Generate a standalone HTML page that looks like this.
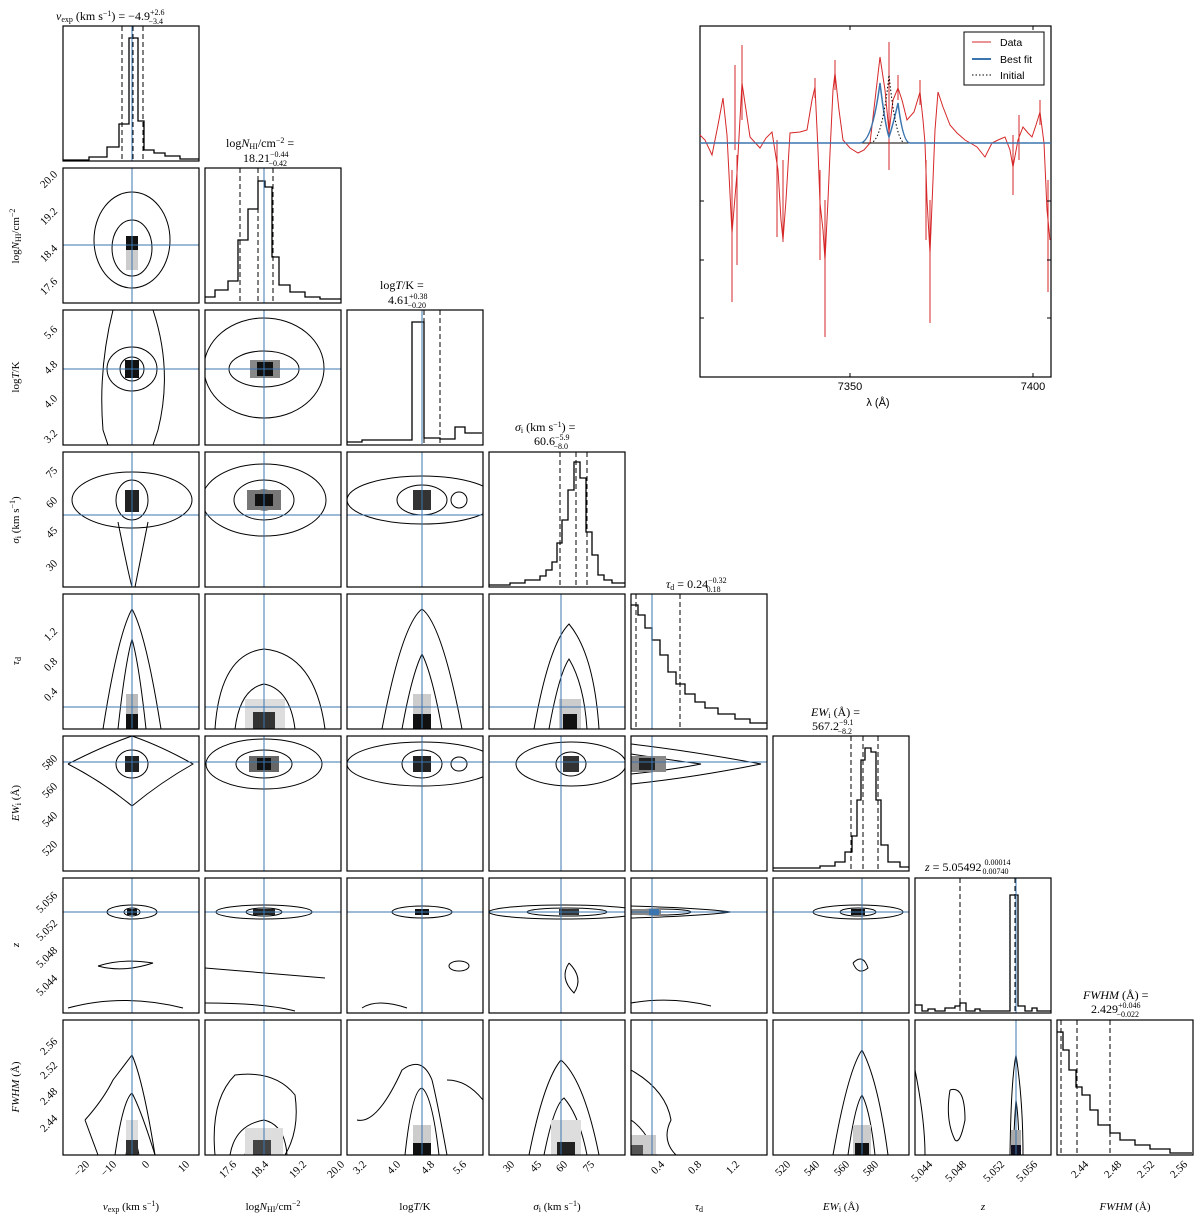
<!DOCTYPE html>
<html><head><meta charset="utf-8"><style>
html,body{margin:0;padding:0;background:#fff;}
svg{display:block;font-family:"Liberation Serif",serif;}
.f{fill:none;stroke:#000;stroke-width:1.2}
.c{fill:none;stroke:#000;stroke-width:1}
.b{stroke:#3b75af;stroke-width:1}
.h{fill:none;stroke:#000;stroke-width:1.3}
.d{stroke:#000;stroke-width:1;stroke-dasharray:5,3}
.t{font-size:12px}
.s{font-size:8px}
.ax{font-size:11px}
.i{font-style:italic}
</style></head><body>
<svg width="1200" height="1217" viewBox="0 0 1200 1217" xmlns="http://www.w3.org/2000/svg">
<!-- Diagonal histograms -->
<g>
<path class="h" d="M63,160 H89 V157 H107 V147 H119 V124 H129 V38 H138 V121 H144 V150 H154 V153 H165 V156 H180 V159 H199"/>
<line class="d" x1="122" y1="26" x2="122" y2="161" stroke-width="2"/><line class="d" x1="133" y1="26" x2="133" y2="161"/><line class="d" x1="143" y1="26" x2="143" y2="161"/>
<line class="b" x1="132" y1="26" x2="132" y2="161"/>
<rect class="f" x="63" y="26" width="136" height="135"/>
<text class="t" x="56" y="20"><tspan class="i">v</tspan><tspan class="s" dy="2">exp</tspan><tspan dy="-2"> (km s</tspan><tspan class="s" dy="-4">−1</tspan><tspan dy="4">) = −4.9</tspan><tspan class="s" dy="-5">+2.6</tspan><tspan class="s" dx="-16" dy="9">−3.4</tspan></text>

<path class="h" d="M205,297 H215 V290 H228 V281 H238 V240 H248 V209 H258 V181 H265 V187 H272 V257 H279 V285 H290 V292 H305 V297 H320 V299 H341"/>
<line class="d" x1="240" y1="168" x2="240" y2="303"/><line class="d" x1="258" y1="168" x2="258" y2="303"/><line class="d" x1="273" y1="168" x2="273" y2="303"/>
<line class="b" x1="264" y1="168" x2="264" y2="303"/>
<rect class="f" x="205" y="168" width="136" height="135"/>
<text class="t" x="226" y="147">log<tspan class="i">N</tspan><tspan class="s" dy="2">HI</tspan><tspan dy="-2">/cm</tspan><tspan class="s" dy="-4">−2</tspan><tspan dy="4"> =</tspan></text>
<text class="t" x="243" y="162">18.21<tspan class="s" dy="-5">−0.44</tspan><tspan class="s" dx="-20" dy="9">−0.42</tspan></text>

<path class="h" d="M347,442 H362 V440 H412 V322 H424 V438 H440 V439 H455 V427 H465 V433 H482"/>
<line class="d" x1="424" y1="310" x2="424" y2="444"/><line class="d" x1="440" y1="310" x2="440" y2="444"/>
<line class="b" x1="422" y1="310" x2="422" y2="444"/>
<rect class="f" x="347" y="310" width="136" height="135"/>
<text class="t" x="380" y="289">log<tspan class="i">T</tspan>/K =</text>
<text class="t" x="388" y="304">4.61<tspan class="s" dy="-5">+0.38</tspan><tspan class="s" dx="-20" dy="9">−0.20</tspan></text>

<path class="h" d="M489,585 H510 V583 H525 V580 H540 V576 H546 V570 H552 V562 H557 V543 H562 V520 H568 V490 H574 V462 H580 V478 H586 V532 H592 V555 H598 V575 H604 V580 H612 V583 H625"/>
<line class="d" x1="560" y1="452" x2="560" y2="587"/><line class="d" x1="576" y1="452" x2="576" y2="587" stroke-width="2"/><line class="d" x1="587" y1="452" x2="587" y2="587"/>
<rect class="f" x="489" y="452" width="136" height="135"/>
<text class="t" x="515" y="431"><tspan class="i">σ</tspan><tspan class="s" dy="2">i</tspan><tspan dy="-2"> (km s</tspan><tspan class="s" dy="-4">−1</tspan><tspan dy="4">) =</tspan></text>
<text class="t" x="534" y="445">60.6<tspan class="s" dy="-5">−5.9</tspan><tspan class="s" dx="-16" dy="9">−8.0</tspan></text>

<path class="h" d="M631,605 H638 V615 H645 V628 H652 V640 H660 V655 H668 V672 H676 V684 H685 V694 H695 V702 H705 V708 H718 V714 H735 V719 H750 V723 H767"/>
<line class="d" x1="636" y1="594" x2="636" y2="729"/><line class="d" x1="680" y1="594" x2="680" y2="729"/>
<line class="b" x1="652" y1="594" x2="652" y2="729"/>
<rect class="f" x="631" y="594" width="136" height="135"/>
<text class="t" x="666" y="588"><tspan class="i">τ</tspan><tspan class="s" dy="2">d</tspan><tspan dy="-2"> = 0.24</tspan><tspan class="s" dy="-5">−0.32</tspan><tspan class="s" dx="-20" dy="9">0.18</tspan></text>

<path class="h" d="M773,868 H820 V866 H835 V862 H845 V852 H852 V836 H857 V800 H861 V760 H865 V748 H871 V752 H876 V800 H881 V845 H888 V862 H900 V867 H909"/>
<line class="d" x1="851" y1="736" x2="851" y2="871"/><line class="d" x1="863" y1="736" x2="863" y2="871"/><line class="d" x1="878" y1="736" x2="878" y2="871"/>
<rect class="f" x="773" y="736" width="136" height="135"/>
<text class="t" x="811" y="716"><tspan class="i">EW</tspan><tspan class="s" dy="2">i</tspan><tspan dy="-2"> (Å) =</tspan></text>
<text class="t" x="812" y="730">567.2<tspan class="s" dy="-5">−9.1</tspan><tspan class="s" dx="-16" dy="9">−8.2</tspan></text>

<path class="h" d="M915,1005 H922 V1011 H928 V1009 H935 V1011 H945 V1008 H955 V1006 H960 V1003 H966 V1011 H975 V1009 H980 V1011 H1010 V895 H1018 V1006 H1025 V1011 H1032 V1008 H1037 V1011 H1051"/>
<line class="d" x1="960" y1="878" x2="960" y2="1013"/><line class="d" x1="1015" y1="878" x2="1015" y2="1013" stroke-width="2"/>
<line class="b" x1="1016" y1="878" x2="1016" y2="1013"/>
<rect class="f" x="915" y="878" width="136" height="135"/>
<text class="t" x="925" y="871"><tspan class="i">z</tspan> = 5.05492 <tspan class="s" dy="-6">0.00014</tspan><tspan class="s" dx="-28" dy="9">0.00740</tspan></text>

<path class="h" d="M1057,1032 H1063 V1050 H1069 V1070 H1076 V1087 H1082 V1095 H1090 V1110 H1098 V1125 H1110 V1133 H1120 V1140 H1135 V1145 H1150 V1149 H1170 V1153 H1192"/>
<line class="d" x1="1061" y1="1020" x2="1061" y2="1155"/><line class="d" x1="1077" y1="1020" x2="1077" y2="1155"/><line class="d" x1="1110" y1="1020" x2="1110" y2="1155"/>
<rect class="f" x="1057" y="1020" width="136" height="135"/>
<text class="t" x="1083" y="999"><tspan class="i">FWHM</tspan> (Å) =</text>
<text class="t" x="1091" y="1013">2.429<tspan class="s" dy="-5">+0.046</tspan><tspan class="s" dx="-24" dy="9">−0.022</tspan></text>
</g>

<!-- Lower triangle panels -->
<g>
<svg x="63" y="168" width="136" height="135"><ellipse cx="69" cy="72" rx="38" ry="48" class="c"/><ellipse cx="69" cy="80" rx="20" ry="28" class="c"/><rect x="63" y="72" width="12" height="30" fill="#ccc"/><rect x="63" y="68" width="12" height="14" fill="#111"/><line class="b" x1="69" y1="0" x2="69" y2="135"/><line class="b" x1="0" y1="77" x2="136" y2="77"/></svg>
<rect class="f" x="63" y="168" width="136" height="135"/>
<svg x="63" y="310" width="136" height="135"><path class="c" d="M50,0 Q35,60 40,120 L45,135 M90,0 Q110,60 95,120 L90,135"/><ellipse cx="69" cy="59" rx="25" ry="22" class="c"/><ellipse cx="69" cy="59" rx="12" ry="12" class="c"/><rect x="62" y="50" width="14" height="18" fill="#111"/><line class="b" x1="69" y1="0" x2="69" y2="135"/><line class="b" x1="0" y1="59" x2="136" y2="59"/></svg>
<rect class="f" x="63" y="310" width="136" height="135"/>
<svg x="205" y="310" width="136" height="135"><ellipse cx="59" cy="58" rx="60" ry="50" class="c"/><ellipse cx="59" cy="59" rx="35" ry="18" class="c"/><rect x="45" y="50" width="30" height="18" fill="#888"/><rect x="52" y="52" width="16" height="14" fill="#111"/><line class="b" x1="59" y1="0" x2="59" y2="135"/><line class="b" x1="0" y1="59" x2="136" y2="59"/></svg>
<rect class="f" x="205" y="310" width="136" height="135"/>
<svg x="63" y="452" width="136" height="135"><ellipse cx="69" cy="48" rx="60" ry="28" class="c"/><ellipse cx="69" cy="48" rx="16" ry="20" class="c"/><rect x="62" y="38" width="14" height="22" fill="#222"/><path class="c" d="M55,70 Q65,120 69,135 M85,70 Q75,120 72,135"/><line class="b" x1="69" y1="0" x2="69" y2="135"/><line class="b" x1="0" y1="63" x2="136" y2="63" stroke-width="1.5"/></svg>
<rect class="f" x="63" y="452" width="136" height="135"/>
<svg x="205" y="452" width="136" height="135"><ellipse cx="59" cy="48" rx="62" ry="36" class="c"/><ellipse cx="59" cy="48" rx="30" ry="20" class="c"/><ellipse cx="59" cy="48" rx="15" ry="10" class="c"/><rect x="42" y="38" width="34" height="20" fill="#777"/><rect x="50" y="42" width="18" height="12" fill="#111"/><line class="b" x1="59" y1="0" x2="59" y2="135"/><line class="b" x1="0" y1="63" x2="136" y2="63" stroke-width="1.5"/></svg>
<rect class="f" x="205" y="452" width="136" height="135"/>
<svg x="347" y="452" width="136" height="135"><ellipse cx="75" cy="48" rx="75" ry="24" class="c"/><ellipse cx="75" cy="48" rx="25" ry="15" class="c"/><ellipse cx="112" cy="48" rx="8" ry="8" class="c"/><rect x="66" y="38" width="18" height="20" fill="#333"/><line class="b" x1="75" y1="0" x2="75" y2="135" stroke-width="1.5"/><line class="b" x1="0" y1="63" x2="136" y2="63" stroke-width="1.5"/></svg>
<rect class="f" x="347" y="452" width="136" height="135"/>
<svg x="63" y="594" width="136" height="135"><path class="c" d="M40,135 Q55,40 69,15 Q83,40 98,135"/><path class="c" d="M55,135 Q62,70 69,45 Q76,70 83,135"/><rect x="63" y="100" width="12" height="35" fill="#bbb"/><rect x="63" y="120" width="12" height="15" fill="#111"/><line class="b" x1="69" y1="0" x2="69" y2="135"/><line class="b" x1="0" y1="113" x2="136" y2="113"/></svg>
<rect class="f" x="63" y="594" width="136" height="135"/>
<svg x="205" y="594" width="136" height="135"><path class="c" d="M10,135 Q15,60 59,55 Q110,60 120,135"/><path class="c" d="M30,135 Q35,95 59,90 Q85,95 90,135"/><rect x="40" y="105" width="40" height="30" fill="#ddd"/><rect x="48" y="118" width="22" height="17" fill="#333"/><line class="b" x1="59" y1="0" x2="59" y2="135"/><line class="b" x1="0" y1="113" x2="136" y2="113"/></svg>
<rect class="f" x="205" y="594" width="136" height="135"/>
<svg x="347" y="594" width="136" height="135"><path class="c" d="M35,135 Q55,30 75,15 Q95,30 115,135"/><path class="c" d="M55,135 Q65,80 75,60 Q85,80 95,135"/><rect x="66" y="100" width="18" height="35" fill="#ccc"/><rect x="66" y="120" width="18" height="15" fill="#111"/><line class="b" x1="75" y1="0" x2="75" y2="135" stroke-width="1.5"/><line class="b" x1="0" y1="113" x2="136" y2="113"/></svg>
<rect class="f" x="347" y="594" width="136" height="135"/>
<svg x="489" y="594" width="136" height="135"><path class="c" d="M45,135 Q60,50 80,30 Q105,60 110,135"/><path class="c" d="M60,135 Q70,80 80,65 Q95,90 98,135"/><rect x="70" y="105" width="22" height="30" fill="#ccc"/><rect x="74" y="120" width="14" height="15" fill="#111"/><line class="b" x1="72" y1="0" x2="72" y2="135"/><line class="b" x1="0" y1="113" x2="136" y2="113"/></svg>
<rect class="f" x="489" y="594" width="136" height="135"/>
<svg x="63" y="736" width="136" height="135"><path class="c" d="M5,28 Q40,10 69,0 Q98,10 130,28 Q98,46 69,70 Q40,46 5,28"/><ellipse cx="69" cy="28" rx="16" ry="14" class="c"/><rect x="62" y="20" width="14" height="16" fill="#222"/><path class="c" d="M69,70 L69,135"/><line class="b" x1="69" y1="0" x2="69" y2="135"/><line class="b" x1="0" y1="26" x2="136" y2="26"/></svg>
<rect class="f" x="63" y="736" width="136" height="135"/>
<svg x="205" y="736" width="136" height="135"><ellipse cx="59" cy="28" rx="58" ry="25" class="c"/><ellipse cx="59" cy="28" rx="28" ry="14" class="c"/><rect x="44" y="20" width="30" height="16" fill="#666"/><rect x="52" y="22" width="14" height="12" fill="#111"/><line class="b" x1="59" y1="0" x2="59" y2="135"/><line class="b" x1="0" y1="26" x2="136" y2="26"/></svg>
<rect class="f" x="205" y="736" width="136" height="135"/>
<svg x="347" y="736" width="136" height="135"><ellipse cx="75" cy="28" rx="75" ry="22" class="c"/><ellipse cx="75" cy="28" rx="20" ry="14" class="c"/><ellipse cx="112" cy="28" rx="8" ry="7" class="c"/><rect x="66" y="20" width="18" height="16" fill="#222"/><path class="c" d="M75,50 L75,135"/><line class="b" x1="75" y1="0" x2="75" y2="135" stroke-width="1.5"/><line class="b" x1="0" y1="26" x2="136" y2="26"/></svg>
<rect class="f" x="347" y="736" width="136" height="135"/>
<svg x="489" y="736" width="136" height="135"><ellipse cx="82" cy="28" rx="55" ry="22" class="c"/><ellipse cx="82" cy="28" rx="15" ry="12" class="c"/><rect x="74" y="20" width="16" height="16" fill="#333"/><line class="b" x1="72" y1="0" x2="72" y2="135"/><line class="b" x1="0" y1="26" x2="136" y2="26"/></svg>
<rect class="f" x="489" y="736" width="136" height="135"/>
<svg x="631" y="736" width="136" height="135"><path class="c" d="M0,8 Q60,15 130,28 Q60,42 0,48"/><path class="c" d="M0,18 Q40,24 70,28 Q40,34 0,38"/><rect x="0" y="20" width="35" height="16" fill="#888"/><rect x="8" y="22" width="16" height="12" fill="#222"/><line class="b" x1="21" y1="0" x2="21" y2="135"/><line class="b" x1="0" y1="26" x2="136" y2="26"/></svg>
<rect class="f" x="631" y="736" width="136" height="135"/>
<svg x="63" y="878" width="136" height="135"><ellipse cx="69" cy="34" rx="25" ry="7" class="c"/><ellipse cx="69" cy="34" rx="8" ry="4" class="c"/><rect x="64" y="31" width="10" height="6" fill="#111"/><path class="c" d="M35,88 Q60,80 90,85 Q60,95 35,88 M5,130 Q60,115 120,130"/><line class="b" x1="69" y1="0" x2="69" y2="135"/><line class="b" x1="0" y1="34" x2="136" y2="34"/></svg>
<rect class="f" x="63" y="878" width="136" height="135"/>
<svg x="205" y="878" width="136" height="135"><ellipse cx="59" cy="34" rx="48" ry="7" class="c"/><ellipse cx="59" cy="34" rx="18" ry="4" class="c"/><rect x="48" y="31" width="22" height="6" fill="#222"/><path class="c" d="M0,90 Q60,95 120,100 M0,125 Q60,125 90,133"/><line class="b" x1="59" y1="0" x2="59" y2="135"/><line class="b" x1="0" y1="34" x2="136" y2="34"/></svg>
<rect class="f" x="205" y="878" width="136" height="135"/>
<svg x="347" y="878" width="136" height="135"><ellipse cx="75" cy="34" rx="30" ry="6" class="c"/><rect x="68" y="31" width="14" height="6" fill="#111"/><ellipse cx="112" cy="88" rx="10" ry="5" class="c"/><path class="c" d="M15,130 Q30,120 60,130"/><line class="b" x1="75" y1="0" x2="75" y2="135" stroke-width="1.5"/><line class="b" x1="0" y1="34" x2="136" y2="34"/></svg>
<rect class="f" x="347" y="878" width="136" height="135"/>
<svg x="489" y="878" width="136" height="135"><ellipse cx="75" cy="34" rx="75" ry="7" class="c"/><ellipse cx="78" cy="34" rx="40" ry="4" class="c"/><rect x="70" y="31" width="20" height="6" fill="#333"/><path class="c" d="M80,85 Q95,100 85,115 Q70,100 80,85"/><line class="b" x1="72" y1="0" x2="72" y2="135"/><line class="b" x1="0" y1="34" x2="136" y2="34"/></svg>
<rect class="f" x="489" y="878" width="136" height="135"/>
<svg x="631" y="878" width="136" height="135"><path class="c" d="M0,28 Q70,30 100,34 Q70,38 0,40"/><ellipse cx="30" cy="34" rx="30" ry="3" class="c"/><rect x="0" y="31" width="30" height="6" fill="#888"/><rect x="18" y="31" width="10" height="6" fill="#3b75af"/><path class="c" d="M0,125 Q40,118 80,128"/><line class="b" x1="21" y1="0" x2="21" y2="135"/><line class="b" x1="0" y1="34" x2="136" y2="34"/></svg>
<rect class="f" x="631" y="878" width="136" height="135"/>
<svg x="773" y="878" width="136" height="135"><ellipse cx="85" cy="34" rx="45" ry="7" class="c"/><ellipse cx="85" cy="34" rx="18" ry="4" class="c"/><rect x="78" y="31" width="14" height="6" fill="#111"/><path class="c" d="M80,85 Q90,75 95,90 Q85,98 80,85"/><line class="b" x1="89" y1="0" x2="89" y2="135"/><line class="b" x1="0" y1="34" x2="136" y2="34"/></svg>
<rect class="f" x="773" y="878" width="136" height="135"/>
<svg x="63" y="1020" width="136" height="135"><path class="c" d="M22,100 Q40,80 50,60 Q69,35 69,35 Q80,60 92,135 M35,135 L22,100"/><path class="c" d="M52,135 Q60,80 69,73 Q78,90 92,135"/><path class="c" d="M63,135 Q66,115 69,112 Q72,115 76,135"/><rect x="63" y="100" width="12" height="35" fill="#ddd"/><rect x="63" y="120" width="12" height="15" fill="#333"/><line class="b" x1="69" y1="0" x2="69" y2="135"/></svg>
<rect class="f" x="63" y="1020" width="136" height="135"/>
<svg x="205" y="1020" width="136" height="135"><path class="c" d="M10,135 Q5,80 30,55 Q70,50 90,75 Q95,110 80,135"/><path class="c" d="M25,135 Q30,105 59,100 Q80,105 82,135"/><path class="c" d="M40,135 Q45,112 59,112 Q70,115 72,135"/><rect x="40" y="108" width="38" height="27" fill="#ddd"/><rect x="48" y="120" width="18" height="15" fill="#444"/><line class="b" x1="59" y1="0" x2="59" y2="135"/></svg>
<rect class="f" x="205" y="1020" width="136" height="135"/>
<svg x="347" y="1020" width="136" height="135"><path class="c" d="M10,100 Q30,105 55,50 Q75,35 85,60 Q90,80 100,135"/><path class="c" d="M58,135 Q65,70 75,68 Q85,75 92,135"/><path class="c" d="M100,60 Q120,60 136,80"/><rect x="66" y="105" width="18" height="30" fill="#ccc"/><rect x="66" y="123" width="18" height="12" fill="#111"/><line class="b" x1="75" y1="0" x2="75" y2="135" stroke-width="1.5"/></svg>
<rect class="f" x="347" y="1020" width="136" height="135"/>
<svg x="489" y="1020" width="136" height="135"><path class="c" d="M40,135 Q55,60 72,40 Q95,60 110,135"/><path class="c" d="M55,135 Q65,85 75,78 Q90,95 98,135"/><path class="c" d="M65,135 Q72,110 78,108 Q85,115 90,135"/><rect x="62" y="100" width="30" height="35" fill="#ddd"/><rect x="68" y="122" width="18" height="13" fill="#222"/><line class="b" x1="72" y1="0" x2="72" y2="135"/></svg>
<rect class="f" x="489" y="1020" width="136" height="135"/>
<svg x="631" y="1020" width="136" height="135"><path class="c" d="M0,50 Q35,70 40,100 Q30,120 45,135"/><path class="c" d="M0,100 Q15,110 25,135"/><rect x="0" y="115" width="25" height="20" fill="#ccc"/><rect x="0" y="125" width="12" height="10" fill="#555"/><line class="b" x1="21" y1="0" x2="21" y2="135"/></svg>
<rect class="f" x="631" y="1020" width="136" height="135"/>
<svg x="773" y="1020" width="136" height="135"><path class="c" d="M60,135 Q75,50 89,30 Q105,60 115,135"/><path class="c" d="M75,135 Q82,85 89,75 Q97,90 102,135"/><path class="c" d="M82,135 Q86,112 89,110 Q93,115 96,135"/><rect x="80" y="105" width="18" height="30" fill="#ccc"/><rect x="82" y="123" width="14" height="12" fill="#111"/><line class="b" x1="89" y1="0" x2="89" y2="135"/></svg>
<rect class="f" x="773" y="1020" width="136" height="135"/>
<svg x="915" y="1020" width="136" height="135"><path class="c" d="M0,50 Q10,100 10,135 M35,70 Q50,65 50,100 Q45,125 40,120 Q30,100 35,70"/><path class="c" d="M95,135 Q96,60 101,35 Q108,80 108,135"/><path class="c" d="M98,135 Q100,90 101,80 Q104,100 104,135"/><rect x="96" y="110" width="10" height="25" fill="#aaa"/><rect x="96" y="125" width="10" height="10" fill="#112"/><line class="b" x1="101" y1="0" x2="101" y2="135"/></svg>
<rect class="f" x="915" y="1020" width="136" height="135"/>
</g>

<!-- Y axis labels -->
<g class="ax" text-anchor="end">
<text transform="translate(58,175) rotate(-45)">20.0</text>
<text transform="translate(58,212) rotate(-45)">19.2</text>
<text transform="translate(58,249) rotate(-45)">18.4</text>
<text transform="translate(58,282) rotate(-45)">17.6</text>
<text transform="translate(58,330) rotate(-45)">5.6</text>
<text transform="translate(58,365) rotate(-45)">4.8</text>
<text transform="translate(58,399) rotate(-45)">4.0</text>
<text transform="translate(58,434) rotate(-45)">3.2</text>
<text transform="translate(58,471) rotate(-45)">75</text>
<text transform="translate(58,501) rotate(-45)">60</text>
<text transform="translate(58,531) rotate(-45)">45</text>
<text transform="translate(58,564) rotate(-45)">30</text>
<text transform="translate(58,632) rotate(-45)">1.2</text>
<text transform="translate(58,662) rotate(-45)">0.8</text>
<text transform="translate(58,692) rotate(-45)">0.4</text>
<text transform="translate(58,759) rotate(-45)">580</text>
<text transform="translate(58,787) rotate(-45)">560</text>
<text transform="translate(58,816) rotate(-45)">540</text>
<text transform="translate(58,845) rotate(-45)">520</text>
<text transform="translate(58,896) rotate(-45)">5.056</text>
<text transform="translate(58,924) rotate(-45)">5.052</text>
<text transform="translate(58,951) rotate(-45)">5.048</text>
<text transform="translate(58,979) rotate(-45)">5.044</text>
<text transform="translate(58,1042) rotate(-45)">2.56</text>
<text transform="translate(58,1066) rotate(-45)">2.52</text>
<text transform="translate(58,1092) rotate(-45)">2.48</text>
<text transform="translate(58,1119) rotate(-45)">2.44</text>
</g>
<g class="ax" text-anchor="middle">
<text transform="translate(19,236) rotate(-90)">log<tspan class="i">N</tspan><tspan font-size="8" dy="2">HI</tspan><tspan dy="-2">/cm</tspan><tspan font-size="8" dy="-4">−2</tspan></text>
<text transform="translate(19,377) rotate(-90)">log<tspan class="i">T</tspan>/K</text>
<text transform="translate(19,520) rotate(-90)"><tspan class="i">σ</tspan><tspan font-size="8" dy="2">i</tspan><tspan dy="-2"> (km s</tspan><tspan font-size="8" dy="-4">−1</tspan><tspan dy="4">)</tspan></text>
<text transform="translate(19,661) rotate(-90)"><tspan class="i">τ</tspan><tspan font-size="8" dy="2">d</tspan></text>
<text transform="translate(19,803) rotate(-90)"><tspan class="i">EW</tspan><tspan font-size="8" dy="2">i</tspan><tspan dy="-2"> (Å)</tspan></text>
<text transform="translate(19,945) rotate(-90)" class="i">z</text>
<text transform="translate(19,1087) rotate(-90)"><tspan class="i">FWHM</tspan> (Å)</text>
</g>

<!-- X axis labels -->
<g class="ax" text-anchor="end">
<text transform="translate(90,1165) rotate(-45)">−20</text>
<text transform="translate(117,1165) rotate(-45)">−10</text>
<text transform="translate(150,1165) rotate(-45)">0</text>
<text transform="translate(190,1165) rotate(-45)">10</text>
<text transform="translate(237,1165) rotate(-45)">17.6</text>
<text transform="translate(269,1165) rotate(-45)">18.4</text>
<text transform="translate(307,1165) rotate(-45)">19.2</text>
<text transform="translate(345,1165) rotate(-45)">20.0</text>
<text transform="translate(367,1165) rotate(-45)">3.2</text>
<text transform="translate(401,1165) rotate(-45)">4.0</text>
<text transform="translate(435,1165) rotate(-45)">4.8</text>
<text transform="translate(467,1165) rotate(-45)">5.6</text>
<text transform="translate(515,1165) rotate(-45)">30</text>
<text transform="translate(542,1165) rotate(-45)">45</text>
<text transform="translate(568,1165) rotate(-45)">60</text>
<text transform="translate(595,1165) rotate(-45)">75</text>
<text transform="translate(665,1165) rotate(-45)">0.4</text>
<text transform="translate(702,1165) rotate(-45)">0.8</text>
<text transform="translate(740,1165) rotate(-45)">1.2</text>
<text transform="translate(791,1165) rotate(-45)">520</text>
<text transform="translate(820,1165) rotate(-45)">540</text>
<text transform="translate(850,1165) rotate(-45)">560</text>
<text transform="translate(879,1165) rotate(-45)">580</text>
<text transform="translate(933,1165) rotate(-45)">5.044</text>
<text transform="translate(967,1165) rotate(-45)">5.048</text>
<text transform="translate(1005,1165) rotate(-45)">5.052</text>
<text transform="translate(1038,1165) rotate(-45)">5.056</text>
<text transform="translate(1089,1165) rotate(-45)">2.44</text>
<text transform="translate(1122,1165) rotate(-45)">2.48</text>
<text transform="translate(1155,1165) rotate(-45)">2.52</text>
<text transform="translate(1188,1165) rotate(-45)">2.56</text>
</g>
<g class="ax" text-anchor="middle">
<text x="131" y="1210"><tspan class="i">v</tspan><tspan font-size="8" dy="2">exp</tspan><tspan dy="-2"> (km s</tspan><tspan font-size="8" dy="-4">−1</tspan><tspan dy="4">)</tspan></text>
<text x="273" y="1210">log<tspan class="i">N</tspan><tspan font-size="8" dy="2">HI</tspan><tspan dy="-2">/cm</tspan><tspan font-size="8" dy="-4">−2</tspan></text>
<text x="415" y="1210">log<tspan class="i">T</tspan>/K</text>
<text x="557" y="1210"><tspan class="i">σ</tspan><tspan font-size="8" dy="2">i</tspan><tspan dy="-2"> (km s</tspan><tspan font-size="8" dy="-4">−1</tspan><tspan dy="4">)</tspan></text>
<text x="699" y="1210"><tspan class="i">τ</tspan><tspan font-size="8" dy="2">d</tspan></text>
<text x="841" y="1210"><tspan class="i">EW</tspan><tspan font-size="8" dy="2">i</tspan><tspan dy="-2"> (Å)</tspan></text>
<text x="983" y="1210" class="i">z</text>
<text x="1125" y="1210"><tspan class="i">FWHM</tspan> (Å)</text>
</g>

<!-- Spectrum inset -->
<g>
<rect class="f" x="700" y="26" width="351" height="351"/>
<line x1="700" y1="143" x2="1051" y2="143" stroke="#000" stroke-width="1"/>
<g stroke="#d62728" stroke-width="1" fill="none">
<polyline points="700,135 705,140 712,155 718,125 723,98 727,135 732,233 737,173 742,83 746,110 750,137 760,148 766,138 772,132 778,170 781,220 783,240 786,200 790,133 800,132 807,130 812,100 815,87 818,150 820,203 823,230 825,260 828,200 830,153 833,90 835,73 839,110 843,140 850,148 858,153 864,150 870,143 875,100 880,57 885,90 889,132 893,100 898,88 902,100 907,120 914,112 920,92 923,120 925,143 927,200 930,253 933,180 935,130 938,92 943,107 950,125 957,133 965,140 972,144 977,147 985,157 992,143 998,140 1005,137 1010,150 1013,167 1018,140 1023,127 1028,133 1032,137 1036,125 1040,112 1044,143 1047,210 1050,240"/>
<line x1="732" y1="170" x2="732" y2="302"/><line x1="737" y1="155" x2="737" y2="265"/><line x1="742" y1="45" x2="742" y2="120"/><line x1="735" y1="65" x2="735" y2="150"/>
<line x1="777" y1="140" x2="777" y2="237"/><line x1="783" y1="160" x2="783" y2="242"/>
<line x1="825" y1="200" x2="825" y2="337"/><line x1="820" y1="170" x2="820" y2="260"/><line x1="835" y1="60" x2="835" y2="90"/>
<line x1="889" y1="42" x2="889" y2="170"/><line x1="930" y1="200" x2="930" y2="323"/><line x1="926" y1="160" x2="926" y2="240"/>
<line x1="1013" y1="135" x2="1013" y2="195"/><line x1="1019" y1="115" x2="1019" y2="160"/><line x1="1048" y1="180" x2="1048" y2="292"/>
<line x1="1040" y1="100" x2="1040" y2="125"/><line x1="898" y1="75" x2="898" y2="100"/><line x1="920" y1="80" x2="920" y2="105"/><line x1="815" y1="78" x2="815" y2="98"/>
</g>
<path d="M700,143 H860 Q872,143 880,83 Q885,125 889,137 Q893,125 898,103 Q903,143 910,143 H1051" fill="none" stroke="#3b75af" stroke-width="1.5"/>
<path d="M870,143 Q882,143 889,75 Q896,143 905,143" fill="none" stroke="#000" stroke-width="1" stroke-dasharray="1.5,2"/>
<g stroke="#000" stroke-width="1">
<line x1="850" y1="26" x2="850" y2="30"/><line x1="1033" y1="26" x2="1033" y2="30"/>
<line x1="850" y1="373" x2="850" y2="377"/><line x1="1033" y1="373" x2="1033" y2="377"/>
<line x1="700" y1="201" x2="704" y2="201"/><line x1="700" y1="260" x2="704" y2="260"/><line x1="700" y1="318" x2="704" y2="318"/>
<line x1="1047" y1="201" x2="1051" y2="201"/><line x1="1047" y1="260" x2="1051" y2="260"/><line x1="1047" y1="318" x2="1051" y2="318"/>
</g>
<rect x="964" y="32" width="80" height="53" fill="#fff" stroke="#000" stroke-width="1"/>
<line x1="972" y1="42" x2="991" y2="42" stroke="#d62728" stroke-width="1"/>
<line x1="972" y1="59" x2="991" y2="59" stroke="#3b75af" stroke-width="2"/>
<line x1="972" y1="75" x2="991" y2="75" stroke="#000" stroke-width="1" stroke-dasharray="1.5,2"/>
<g font-family="Liberation Sans, sans-serif" font-size="10.5">
<text x="1000" y="46">Data</text><text x="1000" y="63">Best fit</text><text x="1000" y="79">Initial</text>
</g>
<g font-family="Liberation Sans, sans-serif" font-size="11" text-anchor="middle">
<text x="850" y="390">7350</text><text x="1033" y="390">7400</text>
<text x="878" y="406">λ (Å)</text>
</g>
</g>
</svg>
</body></html>
